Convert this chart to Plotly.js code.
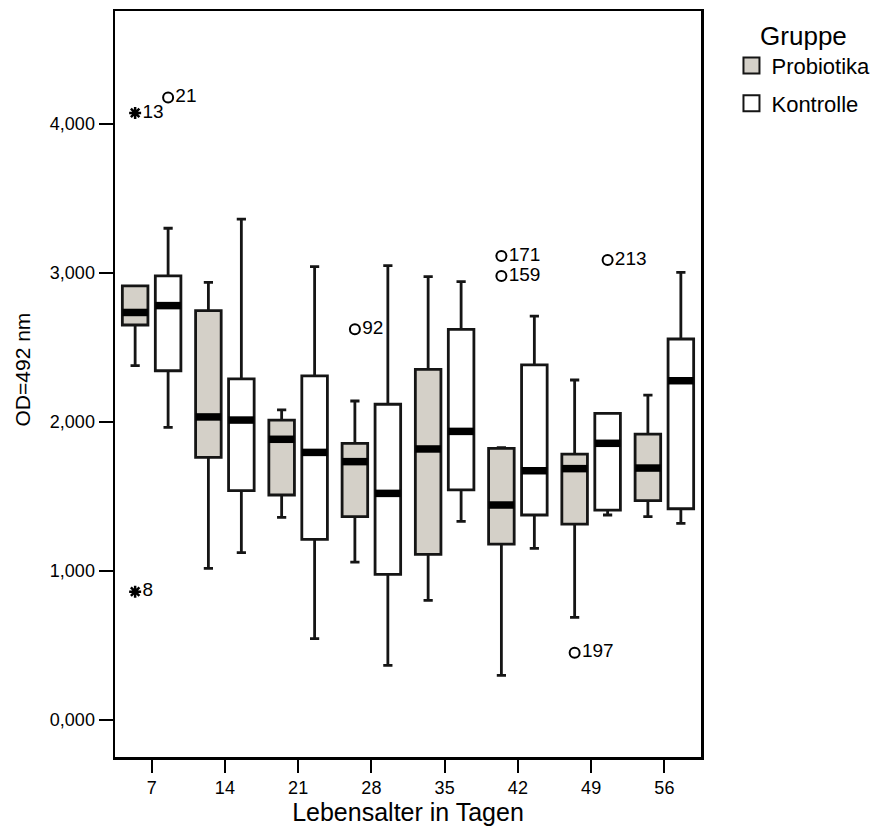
<!DOCTYPE html>
<html><head><meta charset="utf-8">
<script src="https://cdn.plot.ly/plotly-3.0.1.min.js"></script>
<style>html,body{margin:0;padding:0;background:#fff}#chart{width:891px;height:830px}</style>
</head><body><div id="chart"></div>
<script>
// Categories (age in days)
const days = ['7','14','21','28','35','42','49','56'];

// Probiotika group box statistics (OD=492 nm)
const probQ1  = [2.651, 1.763, 1.510, 1.365, 1.112, 1.181, 1.315, 1.472];
const probMed = [2.735, 2.034, 1.884, 1.734, 1.819, 1.443, 1.687, 1.691];
const probQ3  = [2.913, 2.747, 2.013, 1.857, 2.353, 1.823, 1.785, 1.919];
const probLo  = [2.378, 1.018, 1.360, 1.060, 0.803, 0.300, 0.689, 1.365];
const probHi  = [2.913, 2.937, 2.081, 2.141, 2.975, 1.828, 2.282, 2.181];

// Kontrolle group box statistics
const ctrlQ1  = [2.344, 1.539, 1.213, 0.978, 1.544, 1.376, 1.409, 1.418];
const ctrlMed = [2.781, 2.013, 1.796, 1.521, 1.937, 1.673, 1.857, 2.277];
const ctrlQ3  = [2.980, 2.289, 2.309, 2.119, 2.622, 2.383, 2.058, 2.557];
const ctrlLo  = [1.964, 1.123, 0.546, 0.367, 1.333, 1.152, 1.376, 1.320];
const ctrlHi  = [3.300, 3.362, 3.043, 3.049, 2.942, 2.711, 2.058, 3.004];

// Outliers (circles) and extremes (asterisks) with case labels
const probOutDay = ['28', '42', '42', '49'];
const probOutVal = [2.622, 3.114, 2.980, 0.452];
const probOutLbl = ['92', '171', '159', '197'];
const probExtDay = ['7', '7'];
const probExtVal = [4.074, 0.861];
const probExtLbl = ['13', '8'];
const ctrlOutDay = ['7', '49'];
const ctrlOutVal = [4.177, 3.087];
const ctrlOutLbl = ['21', '213'];

const yTicks = [0, 1, 2, 3, 4];

const FONT = 'Liberation Sans, Arial, Helvetica, sans-serif';
const PROB_FILL = '#d4d0c8';
const EDGE = '#151515';
const BOXGAP = 0.1, GROUPGAP = 0.224;
const off = 0.25 * (1 - BOXGAP);
const half = 0.5 * (1 - BOXGAP) * (1 - GROUPGAP) / 2;
const pos = days.map((d, i) => i);
const at = (d, o) => days.indexOf(d) + o;

function medianSeg(meds, o) {
  const xs = [], ys = [];
  meds.forEach((m, i) => { xs.push(i + o - half, i + o + half, null); ys.push(m, m, null); });
  return {x: xs, y: ys, type: 'scatter', mode: 'lines', line: {color: '#000', width: 7.5}, showlegend: false, hoverinfo: 'skip'};
}

function boxTrace(name, q1, med, q3, lo, hi, fill) {
  return {
    type: 'box', name: name, x: pos, q1: q1, median: med, q3: q3, lowerfence: lo, upperfence: hi,
    boxpoints: false, fillcolor: fill, line: {color: EDGE, width: 2.8}, whiskerwidth: 0.36,
    showlegend: false, hoverinfo: 'skip'
  };
}

function pts(dayArr, vals, lbls, o, symbol) {
  return {
    type: 'scatter', mode: 'markers+text', x: dayArr.map(d => at(d, o)), y: vals, text: lbls,
    textposition: 'middle right', textfont: {family: FONT, size: 19, color: '#000'},
    marker: symbol === 'circle'
      ? {symbol: 'circle-open', size: 10, color: '#000', line: {width: 2, color: '#000'}}
      : {symbol: 'asterisk-open', size: 10, color: '#000', line: {width: 2.5, color: '#000'}},
    showlegend: false, hoverinfo: 'skip', cliponaxis: false
  };
}

const data = [
  boxTrace('Probiotika', probQ1, probMed, probQ3, probLo, probHi, PROB_FILL),
  boxTrace('Kontrolle', ctrlQ1, ctrlMed, ctrlQ3, ctrlLo, ctrlHi, '#ffffff'),
  medianSeg(probMed, -off),
  medianSeg(ctrlMed, off),
  pts(probOutDay, probOutVal, probOutLbl, -off, 'circle'),
  pts(probExtDay, probExtVal, probExtLbl, -off, 'star'),
  pts(ctrlOutDay, ctrlOutVal, ctrlOutLbl, off, 'circle'),
  {type: 'scatter', mode: 'markers', name: 'Probiotika', legendgroup: 'p', x: [null], y: [null],
   marker: {symbol: 'square', size: 18, color: PROB_FILL, line: {color: EDGE, width: 2}}},
  {type: 'scatter', mode: 'markers', name: 'Kontrolle', legendgroup: 'k', x: [null], y: [null],
   marker: {symbol: 'square', size: 18, color: '#ffffff', line: {color: EDGE, width: 2}}}
];

const layout = {
  width: 891, height: 830,
  margin: {l: 115, r: 190, t: 11, b: 73},
  paper_bgcolor: '#fff', plot_bgcolor: '#fff',
  font: {family: FONT, color: '#000'},
  separators: ',.',
  boxmode: 'group', boxgap: BOXGAP, boxgroupgap: GROUPGAP,
  hovermode: false,
  xaxis: {
    range: [-0.5, 7.5], tickmode: 'array', tickvals: pos, ticktext: days,
    ticks: 'outside', ticklen: 13, tickwidth: 2, tickcolor: '#000',
    showgrid: false, zeroline: false, showline: true, mirror: true, linecolor: '#000', linewidth: 2.5,
    tickfont: {family: FONT, size: 18},
    title: {text: 'Lebensalter in Tagen', font: {family: FONT, size: 25}, standoff: 5},
    automargin: false
  },
  yaxis: {
    range: [-0.248, 4.758], tickmode: 'array', tickvals: yTicks, tickformat: '.3f',
    ticks: 'outside', ticklen: 14, tickwidth: 2, tickcolor: '#000',
    showgrid: false, zeroline: false, showline: true, mirror: true, linecolor: '#000', linewidth: 2.5,
    tickfont: {family: FONT, size: 18},
    automargin: false
  },
  annotations: [{
    text: 'OD=492 nm', textangle: -90, xref: 'paper', yref: 'paper',
    x: -0.158, y: 0.52, xanchor: 'center', yanchor: 'middle', showarrow: false,
    font: {family: FONT, size: 21, color: '#000'}
  }],
  legend: {
    x: 1.052, xanchor: 'left', y: 1.0, yanchor: 'top',
    traceorder: 'grouped', tracegroupgap: 6,
    title: {text: 'Gruppe', side: 'top center', font: {family: FONT, size: 26}},
    font: {family: FONT, size: 22}, bgcolor: 'rgba(0,0,0,0)', borderwidth: 0
  }
};

Plotly.newPlot('chart', data, layout, {displayModeBar: false, staticPlot: true});
</script></body></html>
